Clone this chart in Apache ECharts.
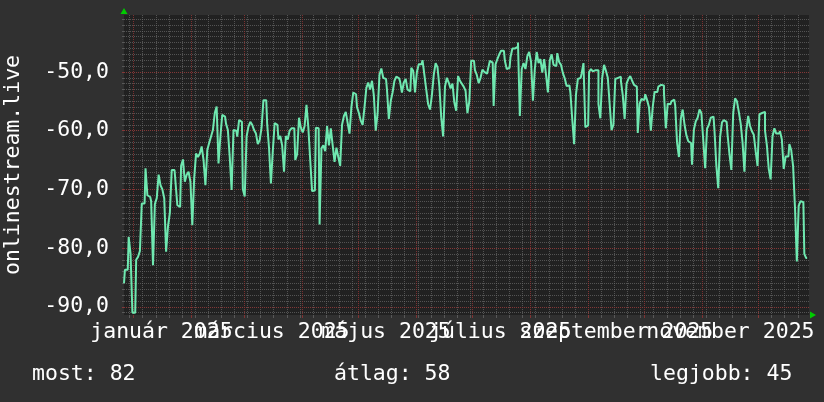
<!DOCTYPE html>
<html><head><meta charset="utf-8">
<script src="https://cdn.jsdelivr.net/npm/echarts@6/dist/echarts.min.js"></script>
<style>html,body{margin:0;padding:0;background:#303030;}#c{width:824px;height:402px;}</style>
</head><body><div id="c"></div>
<script>
// ---- data ----
const startDate = '2024-12-27';
const values = [
 -86,-83.7,-83.7,-78.1,-81,
 -91,-91,-82,-81.5,-80.5,-72.4,-72.4,-66.4,-71,-71.3,-72,-82.9,-72.5,-71.5,-67.5,
 -69.3,-70,-71.5,-80.6,-76.3,-74,-66.7,-66.7,-68.7,-72.7,-73,-66,-64.9,-68.7,-67.5,
 -67,-68.7,-76.1,-68.1,-63.9,-64.5,-63.9,-62.7,-65,-69.3,-63.3,-62.1,-61,-59.9,-57,
 -55.9,-65.6,-61,-57.3,-57.6,-58.8,-59.9,-64.5,-70.1,-59.9,-60,-61,-58.2,-58.5,-70,
 -71.2,-61,-59.3,-58.5,-59,-59.9,-60.5,-62.3,-61.6,-59.5,-54.8,-54.8,-58.9,-63,-69,
 -63.5,-58.7,-59,-61.5,-60.9,-62.5,-67,-60.9,-61.5,-60,-59.6,-59.6,-65,-64,-57.8,
 -59.5,-60.3,-59.2,-55.6,-59.5,-65,-70.3,-70.2,-59.5,-59.6,-76,-63,-62.5,-63.5,-59.2,
 -62.5,-59.6,-62.5,-65.3,-62.9,-64.5,-66,-59,-57.5,-56.8,-58.7,-60.5,-56,-53.5,-53.8,
 -56,-57,-58.3,-59,-56,-52.7,-51.8,-53,-51.5,-54,-60,-57,-50.5,-49.4,-51,
 -51.2,-53,-58,-55,-53.5,-51.5,-50.8,-51.1,-51.6,-53.5,-51.8,-51.2,-53,-53.3,-49.3,
 -49.8,-53.5,-50,-48.7,-48.7,-48,-50.5,-53,-55.5,-56.4,-54,-50.5,-48.5,-49.2,-52.4,
 -57.7,-61,-52.5,-51,-51.8,-52.8,-52,-55.2,-56.6,-50.7,-51.5,-52,-52.5,-53.2,-57,
 -55,-48.1,-48.1,-49.7,-50.5,-51.9,-51,-49.6,-50,-50.3,-49.5,-48.1,-48.4,-55.8,-48.7,
 -47.8,-47,-46.4,-46.4,-48.1,-49.5,-49.3,-47.5,-46,-46,-45.7,-45,-57.5,-49.5,-48.5,
 -49.5,-47.3,-46.6,-48.3,-54.9,-49.5,-46.6,-48.5,-47.8,-50.1,-47.8,-50.5,-53.5,-48,-47,
 -48.8,-49,-46.8,-48.3,-48.8,-50.2,-51.1,-52.4,-52.3,-53.5,-58,-62.3,-53.8,-51.2,-51,
 -50.3,-48.5,-59.4,-59.1,-50,-49.5,-49.9,-49.7,-49.7,-55.5,-57.9,-51,-48.8,-49.8,-51,
 -55.5,-59.9,-59,-51.2,-51,-50.8,-51.5,-54,-58,-52,-51.2,-50.7,-51.5,-52.2,-52.5,
 -60.4,-55.4,-54.6,-54.8,-53.8,-54.8,-56,-60,-56,-53.4,-53.4,-52.5,-52.2,-52.3,-53.5,
 -59.6,-55.4,-55.5,-55,-54.7,-55.7,-62,-64.5,-58,-56.4,-59,-60.8,-61.8,-62.1,-65.8,
 -59.8,-58.4,-57.8,-56.4,-57,-61.6,-66.4,-59.7,-59,-57.8,-57.6,-60,-66,-69.8,-61.1,
 -58.6,-58.2,-58.5,-60.7,-64,-66.7,-57,-54.5,-55,-56.8,-58.8,-62,-67,-60,-57.5,
 -59.2,-60.1,-60.7,-63.5,-66,-57.2,-57,-56.8,-60,-62.5,-66.5,-68.3,-61,-59.6,-60.5,
 -60.5,-60.1,-61.5,-66.5,-64.4,-64.4,-62.3,-63.3,-66,-73,-82.3,-72.8,-72,-72.2,-81,
 -81.7
];
const yTicks = [-90, -80, -70, -60, -50];
const yMinorTicks = [-91,-90,-89,-88,-87,-86,-85,-84,-83,-82,-81,-80,-79,-78,-77,-76,-75,-74,-73,-72,-71,-70,-69,-68,-67,-66,-65,-64,-63,-62,-61,-60,-59,-58,-57,-56,-55,-54,-53,-52,-51,-50,-49,-48,-47,-46,-45,-44,-43,-42,-41];
const monthNames = ['január','február','március','április','május','június','július','augusztus','szeptember','október','november','december'];
const labelMonthsA = [0, 4, 8];
const labelMonthsB = [2, 6, 10];
const statNames = ['most', 'átlag', 'legjobb'];
const statValues = [82, 58, 45];
const axisTitle = 'onlinestream.live';

// ---- build ----
const FONT = 'DejaVu Sans Mono';
const FS = 21.5;
const GRAY = 'rgba(105,105,105,0.7)';
const RED = 'rgba(140,50,50,0.85)';
const t0 = Date.parse(startDate + 'T00:00:00Z');
const dates = [];
for (let i = 0; i <= values.length; i++) dates.push(new Date(t0 + i * 86400000));
const categories = dates.map(d => d.toISOString().slice(0, 10));
const isMonday = i => dates[i].getUTCDay() === 1;
const isMonthStart = i => dates[i].getUTCDate() === 1;
const isLabelIn = (i, months) => dates[i].getUTCDate() === 16 && months.indexOf(dates[i].getUTCMonth()) >= 0;
const fmtMonth = (v) => { const d = new Date(v + 'T00:00:00Z'); return monthNames[d.getUTCMonth()] + ' ' + d.getUTCFullYear(); };

function labelAxis(months) {
  return { type: 'category', data: categories, boundaryGap: false, position: 'bottom', z: 1,
    axisLine: { show: false }, axisTick: { show: false }, splitLine: { show: false },
    axisLabel: { show: true, interval: (i) => isLabelIn(i, months), showMinLabel: true, showMaxLabel: true, hideOverlap: false,
      margin: 6, color: '#ffffff', fontFamily: FONT, fontSize: FS, formatter: fmtMonth } };
}

const chart = echarts.init(document.getElementById('c'));
chart.setOption({
  backgroundColor: '#303030',
  animation: false,
  grid: { left: 124, top: 15, width: 685, height: 300, show: true, backgroundColor: '#212121', borderWidth: 0,
          containLabel: false, outerBoundsMode: 'none' },
  xAxis: [
    { type: 'category', data: categories, boundaryGap: false, position: 'bottom', z: 0,
      axisLine: { show: false }, axisLabel: { show: false },
      axisTick: { show: true, interval: (i) => isMonday(i), length: 3, lineStyle: { color: GRAY } },
      splitLine: { show: true, interval: (i) => isMonday(i), lineStyle: { color: GRAY, width: 1, type: [1, 1] } } },
    { type: 'category', data: categories, boundaryGap: false, position: 'bottom', z: 1,
      axisLine: { show: true, symbol: ['none', 'triangle'], symbolSize: [7, 6], symbolOffset: [0, 4], lineStyle: { color: '#00cc00', width: 0 } },
      axisTick: { show: true, interval: (i) => isMonthStart(i), length: 3, lineStyle: { color: RED } },
      axisLabel: { show: false },
      splitLine: { show: true, interval: (i) => isMonthStart(i), lineStyle: { color: RED, width: 1, type: [1, 1] } } },
    labelAxis(labelMonthsA),
    labelAxis(labelMonthsB)
  ],
  yAxis: [
    { type: 'value', min: -91.4, max: -40.3, position: 'left', z: 1,
      name: axisTitle, nameLocation: 'middle', nameRotate: 90, nameGap: 100,
      nameTextStyle: { color: '#ffffff', fontFamily: FONT, fontSize: FS },
      axisLine: { show: true, symbol: ['none', 'triangle'], symbolSize: [7, 6], symbolOffset: [0, 4], lineStyle: { color: '#00cc00', width: 0 } },
      axisTick: { show: true, length: 2, customValues: yTicks, lineStyle: { color: RED } },
      axisLabel: { customValues: yTicks, margin: 15, color: '#ffffff', fontFamily: FONT, fontSize: FS,
        formatter: (v) => v.toFixed(1).replace('.', ',') },
      splitLine: { show: true, lineStyle: { color: RED, width: 1, type: [1, 1] } } },
    { type: 'value', min: -91.4, max: -40.3, position: 'left', z: 0,
      axisLine: { show: false }, axisLabel: { show: false },
      axisTick: { show: true, length: 2, customValues: yMinorTicks, lineStyle: { color: GRAY } },
      splitLine: { show: true, lineStyle: { color: GRAY, width: 1, type: [1, 1] } } }
  ],
  series: [{
    type: 'line', xAxisIndex: 1, yAxisIndex: 0, data: values, step: 'middle',
    showSymbol: false, symbol: 'none', z: 5,
    lineStyle: { color: '#6fe8b0', width: 2 }
  }],
  graphic: statNames.map((n, i) => ({
    type: 'text', left: [32, 334, 650][i], top: 363,
    style: { text: n + ': ' + statValues[i], fill: '#ffffff', font: FS + 'px "' + FONT + '"' }
  }))
});
</script></body></html>
